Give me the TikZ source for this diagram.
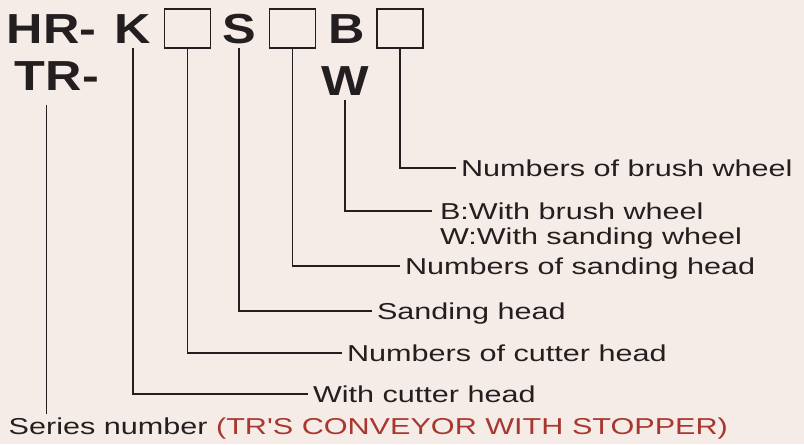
\documentclass[tikz,border=0pt]{standalone}
\usepackage{fontspec}
\usepackage{xcolor}
\usepackage{tikz}
\usetikzlibrary{
  positioning,
  calc
}
\newfontfamily\codefont[FakeStretch=1.2]{Liberation Sans Bold}
\newfontfamily\labfont[FakeStretch=1.33]{Liberation Sans}
\definecolor{hrBack}{HTML}{F6ECE7}
\definecolor{hrInk}{HTML}{231F20}
\definecolor{hrRed}{HTML}{A8372F}
\tikzset{
  codeletter/.style={
    font=\codefont\fontsize{31.5pt}{34pt}\selectfont, text=hrInk,
    anchor=base, inner xsep=0pt, inner ysep=3.75pt, text depth=0pt, outer sep=0pt
  },
  codebox/.style={
    draw=hrInk, line width=1.1pt, minimum width=34.5pt, minimum height=29.25pt,
    inner sep=0pt, outer sep=0pt
  },
  partlabel/.style={
    font=\labfont\fontsize{17.25pt}{20pt}\selectfont, text=hrInk, anchor=west,
    inner xsep=3.75pt, inner ysep=0pt, text height=12.3pt, text depth=0pt, outer sep=0pt
  },
  leader/.style={draw=hrInk, line width=1.1pt}
}

\begin{document}
\begin{tikzpicture}[x=0.75pt, y=-0.75pt]
  % background, 804 x 444 px
  \fill[hrBack] (0,0) rectangle (804,444);
  \useasboundingbox (0,0) rectangle (804,444);

  % model code
  \node[codeletter, anchor=base west] (hr) at (7,43) {HR-};
  \node[codeletter] (k) at (133,43) {K};
  \node[codebox] (nk) at (187.5,28.5) {};
  \node[codeletter] (s) at (239,43) {S};
  \node[codebox] (ns) at (292.5,28.5) {};
  \node[codeletter] (b) at (347,43) {B};
  \node[codebox] (nb) at (400,28.5) {};
  \node[codeletter, anchor=base west] (tr) at (15,90) {TR-};
  \node[codeletter] (w) at (345,95) {W};

  % explanations
  \node[partlabel] (lbrushno) at (456,168) {Numbers of brush wheel};
  \node[partlabel, inner xsep=6pt] (lbrush) at (432,211) {B:With brush wheel};
  \node[partlabel, anchor=north west, inner xsep=6pt] (lsandw)
    at ($(lbrush.south west)+(0,9)$) {W:With sanding wheel};
  \node[partlabel] (lsandno) at (400,266) {Numbers of sanding head};
  \node[partlabel] (lsand) at (372,311) {Sanding head};
  \node[partlabel] (lcutno) at (342,353) {Numbers of cutter head};
  \node[partlabel] (lcut) at (308,394) {With cutter head};
  \node[partlabel, anchor=base west, inner xsep=2pt] (lseries) at (6,434)
    {Series number {\color{hrRed}(TR'S CONVEYOR WITH STOPPER)}};

  % leaders
  \draw[leader] (nb.south) |- (lbrushno.west);
  \draw[leader] (w.south) |- (lbrush.west);
  \draw[leader] (ns.south) |- (lsandno.west);
  \draw[leader] (s.south) |- (lsand.west);
  \draw[leader] (nk.south) |- (lcutno.west);
  \draw[leader] (k.south) |- (lcut.west);
  \draw[leader, shorten >=3pt] ([xshift=-8pt,yshift=-7.5pt]tr.south)
    -- ([xshift=-8pt]tr.south |- lseries.north);
\end{tikzpicture}
\end{document}
